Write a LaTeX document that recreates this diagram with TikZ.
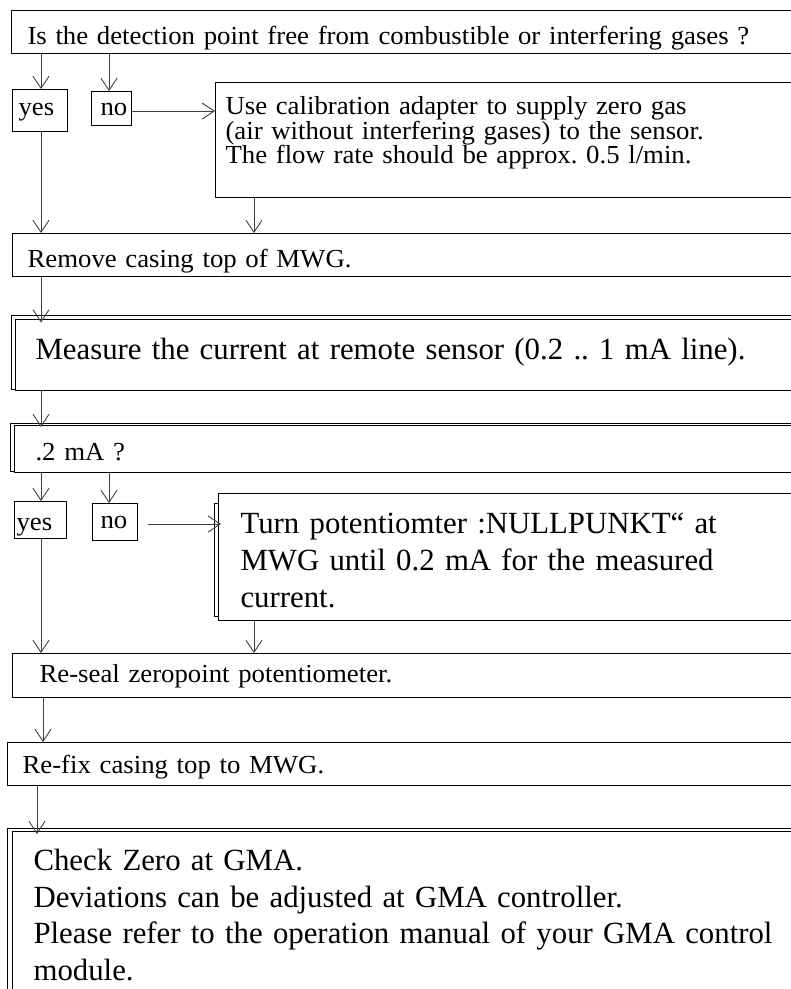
\documentclass[tikz,border=0pt]{standalone}
\usepackage{fontspec}
\usetikzlibrary{arrows.meta}
\newfontfamily\smfam{Liberation Serif}[FakeStretch=1.03]
\newfontfamily\lgfam{Liberation Serif}
\newcommand\smallfont{\smfam\fontsize{26}{24.5}\selectfont\frenchspacing}
\newcommand\largefont{\lgfam\fontsize{30.8}{37}\selectfont\frenchspacing}
\tikzset{
  box/.style={draw=black, line width=1.1pt, rectangle, anchor=north west,
    inner ysep=0pt, align=left, font=\smallfont},
  bigbox/.style={box, font=\largefont},
  shadowline/.style={draw=black, line width=0.9pt},
  arr/.style={draw=black!75, line width=0.9pt, -{Straight Barb[length=12pt,width=16pt]}},
}
\begin{document}
\begin{tikzpicture}[x=1pt,y=-1pt]
\useasboundingbox (0,0) rectangle (791,989);
\fill[white] (0,0) rectangle (791,989);
\clip (0,0) rectangle (791,989);

% column / row helper coordinates
\coordinate (ax) at (41,0);
\coordinate (bx) at (109,0);
\coordinate (cx) at (254,0);
\coordinate (dx) at (43,0);
\coordinate (ex) at (37,0);
\coordinate (ry1) at (0,111);
\coordinate (ry2) at (0,524);

% nodes
\node[box, inner xsep=16pt, text width=777pt, text height=34pt, text depth=9pt] (q1) at (11,10)
  {Is the detection point free from combustible or interfering gases ?};
\node[box, inner xsep=6pt, text width=43pt, text height=26pt, text depth=16pt] (yes1) at (12,89) {yes};
\node[box, inner xsep=9pt, text width=22pt, text height=24pt, text depth=10pt] (no1) at (91,91) {no};
\node[box, inner xsep=10pt, text width=585pt, text height=32pt, text depth=83pt] (use) at (215,82)
  {Use calibration adapter to supply zero gas\\(air without interfering gases) to the sensor.\\The flow rate should be approx. 0.5 l/min.};
\node[box, inner xsep=15pt, text width=778pt, text height=34pt, text depth=9pt] (remove) at (12,233)
  {Remove casing top of MWG.};
\node[bigbox, inner xsep=20pt, text width=765pt, text height=40pt, text depth=31pt] (measure) at (15,319)
  {Measure the current at remote sensor (0.2 .. 1 mA line).};
\node[box, inner xsep=21pt, text width=764pt, text height=35pt, text depth=12pt] (ma) at (14,425)
  {.2 mA ?};
\node[box, inner xsep=2pt, text width=48pt, text height=29pt, text depth=8pt] (yes2) at (14,501) {yes};
\node[box, inner xsep=8pt, text width=29pt, text height=25pt, text depth=12pt] (no2) at (92,503) {no};
\node[bigbox, inner xsep=22pt, text width=558pt, text height=40pt, text depth=87pt] (turn) at (218,493)
  {Turn potentiomter :NULLPUNKT“ at\\MWG until 0.2 mA for the measured\\current.};
\node[box, inner xsep=27pt, text width=754pt, text height=29pt, text depth=15pt] (reseal) at (12,653)
  {Re-seal zeropoint potentiometer.};
\node[box, inner xsep=15pt, text width=783pt, text height=31pt, text depth=12pt] (refix) at (7,742)
  {Re-fix casing top to MWG.};
\node[bigbox, font=\lgfam\fontsize{30.8}{36.5}\selectfont\frenchspacing, inner xsep=21pt, text width=766pt, text height=39pt, text depth=141pt] (check) at (12,831)
  {Check Zero at GMA.\\Deviations can be adjusted at GMA controller.\\Please refer to the operation manual of your GMA control\\module.};

% shadow frames
\draw[shadowline] ([yshift=2pt]measure.south west) -- ++(-4,0) |- ([yshift=3.5pt]measure.north east);
\draw[shadowline] ([yshift=2pt]ma.south west) -- ++(-4,0) |- ([yshift=2pt]ma.north east);
\draw[shadowline] ([yshift=5pt]turn.south west) -- ++(-3.3,0) |- ([yshift=-10pt]turn.north west);
\draw[shadowline] (check.south west) -- ++(-4.5,0) |- ([yshift=3pt]check.north east);

% connectors
\draw[arr] (q1.south -| ax) -- (yes1.north -| ax);
\draw[arr] (q1.south -| bx) -- (no1.north -| bx);
\draw[arr] (no1.east |- ry1) -- (use.west |- ry1);
\draw[arr] (yes1.south -| ax) -- (remove.north -| ax);
\draw[arr] (use.south -| cx) -- (remove.north -| cx);
\draw[arr, shorten >=-3.5pt] (remove.south -| ax) -- (measure.north -| ax);
\draw[arr, shorten >=-2pt] (measure.south -| ax) -- (ma.north -| ax);
\draw[arr] (ma.south -| ax) -- (yes2.north -| ax);
\draw[arr] (ma.south -| bx) -- (no2.north -| bx);
\draw[arr, shorten <=10pt, shorten >=-3pt] (no2.east |- ry2) -- (turn.west |- ry2);
\draw[arr] (yes2.south -| ax) -- (reseal.north -| ax);
\draw[arr] (turn.south -| cx) -- (reseal.north -| cx);
\draw[arr] (reseal.south -| dx) -- (refix.north -| dx);
\draw[arr, shorten >=-3pt] (refix.south -| ex) -- (check.north -| ex);
\end{tikzpicture}
\end{document}
